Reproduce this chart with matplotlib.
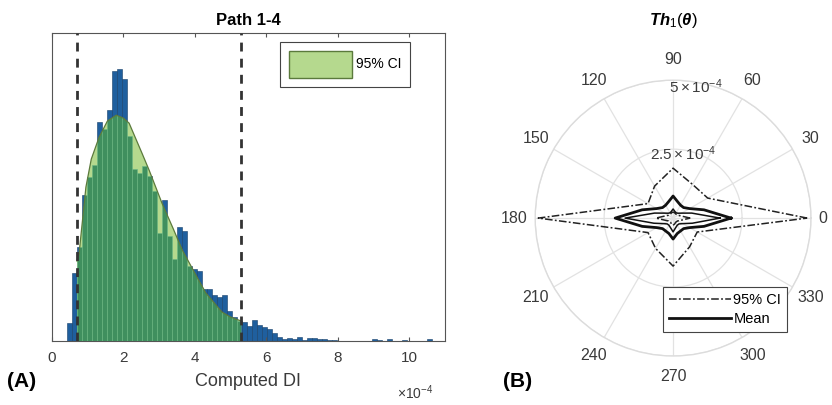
import numpy as np
import matplotlib
matplotlib.use('Agg')
import matplotlib.pyplot as plt
from matplotlib.patches import Polygon, Patch

plt.rcParams['font.family'] = ['Liberation Sans', 'DejaVu Sans']
plt.rcParams['mathtext.fontset'] = 'custom'
plt.rcParams['mathtext.rm'] = 'Liberation Sans'
plt.rcParams['mathtext.it'] = 'Liberation Sans:italic:bold'
plt.rcParams['mathtext.bf'] = 'Liberation Sans:bold'

# ---- panel A: histogram of computed DI (x1e-4) ----
bin_start = 0.42
bin_width = 0.14
counts = [18, 68, 94, 146, 164, 176, 219, 212, 231, 270, 272, 262, 205, 172,
          168, 175, 165, 150, 108, 141, 105, 82, 114, 110, 75, 72, 70, 52,
          52, 46, 44, 46, 30, 24, 20, 19, 15, 21, 16, 14, 12, 8, 4, 2,
          3, 2, 4, 1, 3, 3, 2, 2, 1, 1, 0, 0, 0, 0, 0, 0,
          0, 2, 1, 0, 2, 0, 0, 1, 0, 0, 0, 0, 2]
# fitted pdf (scaled to counts) inside the 95% CI
fit_x = [0.70, 0.76, 0.95, 1.10, 1.32, 1.55, 1.80, 2.00, 2.16, 2.52, 2.72,
         3.08, 3.40, 3.65, 4.00, 4.31, 4.76, 5.00, 5.30]
fit_y = [80, 88, 154, 182, 204, 220, 226, 223, 218, 188, 171,
         138, 112, 91, 68, 48, 29, 24, 20]
ci_low, ci_high = 0.70, 5.30

# ---- panel B: polar Th1(theta) ----
theta_deg = [0, 30, 60, 90, 120, 150, 180, 210, 240, 270, 300, 330]
ci_upper = [4.86, 1.45, 1.41, 1.81, 1.34, 1.05, 4.89, 1.05, 1.27, 1.74, 1.20, 1.01]
theta15 = [0, 15, 30, 45, 60, 75, 90, 105, 120, 135, 150, 165,
           180, 195, 210, 225, 240, 255, 270, 285, 300, 315, 330, 345]
mean_val = [2.10, 1.16, 0.69, 0.54, 0.54, 0.62, 0.80, 0.62, 0.54, 0.54, 0.69, 1.16,
            2.10, 1.16, 0.69, 0.54, 0.54, 0.58, 0.76, 0.58, 0.54, 0.54, 0.69, 1.16]
mean_inner = [1.70, 0.70, 0.36, 0.25, 0.22, 0.25, 0.33, 0.25, 0.22, 0.25, 0.36, 0.70,
              1.74, 0.72, 0.40, 0.30, 0.30, 0.36, 0.50, 0.36, 0.30, 0.30, 0.40, 0.72]
ci_lower = [0.62, 0.30, 0.20, 0.18, 0.18, 0.20, 0.22, 0.20, 0.18, 0.18, 0.20, 0.30,
            0.62, 0.30, 0.20, 0.18, 0.18, 0.22, 0.26, 0.22, 0.18, 0.18, 0.20, 0.30]
r_max = 5.0

blue = '#1f5f9e'
dgreen = '#3f8f5e'
lgreen = '#b5d98e'
olive = '#5b7a3c'
tcol = '#3a3a3a'

fig = plt.figure(figsize=(8.32, 4.05), dpi=100)

ax = fig.add_axes([0.0625, 0.158, 0.472, 0.760])
edges = bin_start + bin_width * np.arange(len(counts))
ax.bar(edges, counts, width=bin_width, align='edge', color=blue,
       edgecolor='#173f68', linewidth=0.4, zorder=1)
verts = [(ci_low, 0)] + list(zip(fit_x, fit_y)) + [(ci_high, 0)]
poly = Polygon(verts, closed=True, facecolor=lgreen, edgecolor='none', zorder=2)
ax.add_patch(poly)
gb = ax.bar(edges, counts, width=bin_width, align='edge', color=dgreen,
            edgecolor='#6cb886', linewidth=0.4, zorder=3)
for b in gb:
    b.set_clip_path(poly)
ax.plot(fit_x, fit_y, color=olive, lw=0.9, zorder=4)
for xv in (ci_low, ci_high):
    ax.axvline(xv, color='#333333', ls=(0, (3.2, 2.6)), lw=2.0, zorder=5)
ax.set_xlim(0, 11)
ax.set_ylim(0, 308)
ax.set_xticks([0, 2, 4, 6, 8, 10])
ax.set_yticks([])
ax.tick_params(axis='x', direction='in', top=True, length=3, labelsize=11,
               colors='#555555', labelcolor=tcol, pad=7)
for s in ax.spines.values():
    s.set_color('#555555')
    s.set_linewidth(0.8)
ax.set_title('Path 1-4', fontsize=12, fontweight='bold', pad=6)
ax.set_xlabel('Computed DI', fontsize=13, color=tcol, labelpad=6)
fig.text(0.477, 0.015, r'$\times10^{-4}$', fontsize=10, color=tcol)
fig.text(0.008, 0.045, '(A)', fontsize=15, fontweight='bold')
leg = ax.legend(handles=[Patch(facecolor=lgreen, edgecolor=olive, linewidth=1.0)],
                labels=['95% CI'], loc='upper right', bbox_to_anchor=(0.93, 0.995),
                fontsize=10, handlelength=4.5, handleheight=2.6, fancybox=False,
                framealpha=1, edgecolor='#444444', borderpad=0.65, handletextpad=0.3)
leg.get_frame().set_linewidth(0.8)

# polar panel
pax = fig.add_axes([0.643, 0.121, 0.332, 0.681], projection='polar')
def closed(th, r):
    t = np.deg2rad(list(th) + [th[0]])
    return t, np.array(list(r) + [r[0]]) * 1e-4
t, r = closed(theta_deg, ci_upper)
pax.plot(t, r, color='#222222', ls=(0, (5, 1.5, 1.2, 1.5)), lw=1.1, label='95% CI')
t, r = closed(theta15, ci_lower)
pax.plot(t, r, color='#222222', ls=(0, (5, 1.5, 1.2, 1.5)), lw=1.1)
t, r = closed(theta15, mean_val)
pax.plot(t, r, color='#111111', lw=2.0, label='Mean')
t, r = closed(theta15, mean_inner)
pax.plot(t, r, color='#111111', lw=1.1)
pax.set_ylim(0, r_max * 1e-4)
pax.set_yticks([2.5e-4, 5e-4])
pax.set_yticklabels([])
pax.set_xticks(np.deg2rad(np.arange(0, 360, 30)))
pax.set_xticklabels([])
pax.grid(True, color='#e2e2e2', lw=0.9)
pax.spines['polar'].set_color('#dcdcdc')
pax.spines['polar'].set_linewidth(1.0)
for a in range(0, 360, 30):
    rr = 1.085 if a == 0 else 1.15
    pax.text(np.deg2rad(a), r_max * 1e-4 * rr, str(a), ha='center', va='center',
             fontsize=11.5, color=tcol, clip_on=False)
pax.text(np.deg2rad(80), 4.85e-4, r'$5\times10^{-4}$', ha='center', va='center',
         fontsize=11, color=tcol)
pax.text(np.deg2rad(81), 2.35e-4, r'$2.5\times10^{-4}$', ha='center', va='center',
         fontsize=11, color=tcol)
pax.set_title(r'$Th_\mathit{1}\mathit{(\theta)}$', fontsize=12, pad=40)
pleg = pax.legend(loc='lower right', bbox_to_anchor=(0.94, 0.06), fontsize=10.5,
                  fancybox=False, framealpha=1, edgecolor='#444444',
                  handlelength=4.2, borderpad=0.4, labelspacing=0.35, handletextpad=0.2)
pleg.get_frame().set_linewidth(0.8)
fig.text(0.604, 0.045, '(B)', fontsize=15, fontweight='bold')

fig.savefig('out.png', dpi=100)
